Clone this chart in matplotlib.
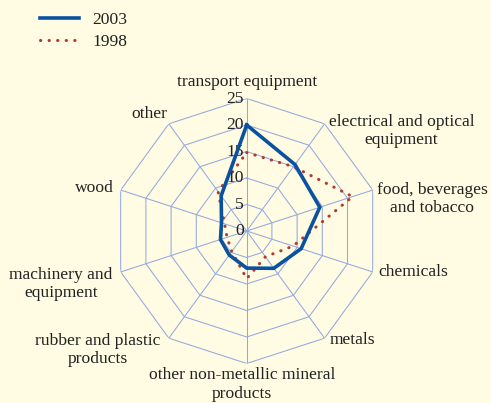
import numpy as np
import matplotlib.pyplot as plt
import matplotlib.transforms as mtransforms
from matplotlib.lines import Line2D

categories = ["transport equipment", "electrical and optical\nequipment",
              "food, beverages\nand tobacco", "chemicals", "metals",
              "other non-metallic mineral\nproducts", "rubber and plastic\nproducts",
              "machinery and\nequipment", "wood", "other"]
values_2003 = [20.0, 15.5, 14.5, 10.8, 8.7, 7.0, 5.6, 5.2, 5.0, 8.2]
values_1998 = [14.8, 15.0, 21.0, 9.2, 6.0, 9.0, 4.8, 3.9, 4.4, 9.2]
rings = [5, 10, 15, 20, 25]
tick_labels = ["0", "5", "10", "15", "20", "25"]

bg = "#fffce3"
grid_col = "#93a8e0"
blue = "#0a52a0"
red = "#b03a32"

plt.rcParams['font.family'] = ['Liberation Serif', 'DejaVu Serif']
fs = 12.6

fig = plt.figure(figsize=(4.91, 4.03), dpi=100, facecolor=bg)
ax = fig.add_axes([0.2326, 0.098, 0.5397, 0.6576], projection='polar')
ax.set_theta_zero_location('N')
ax.set_theta_direction(-1)
ax.set_ylim(0, 25)
ax.set_axis_off()

n = len(categories)
theta = np.linspace(0, 2 * np.pi, n, endpoint=False)
theta_c = np.append(theta, theta[0])

# polygon grid
for r in rings:
    ax.plot(theta_c, [r] * (n + 1), color=grid_col, lw=0.75, zorder=1)
for t in theta:
    ax.plot([t, t], [0, 25], color=grid_col, lw=0.75, zorder=1)

ax.plot(theta_c, values_1998 + values_1998[:1], color=red, lw=2.2,
        linestyle=(0, (0.1, 2.7)), dash_capstyle='round', zorder=3)
ax.plot(theta_c, values_2003 + values_2003[:1], color=blue, lw=2.6,
        solid_joinstyle='miter', zorder=4)

# radial tick labels left of the top spoke
off = mtransforms.offset_copy(ax.transData, fig=fig, x=-3, y=0, units='dots')
for i, lab in enumerate(tick_labels):
    ax.text(0, i * 5, lab, ha='right', va='center', fontsize=fs,
            color='#222222', transform=off)

# category labels: (ha, va, dx, dy) in pixels
place = [('center', 'bottom', 0, 9), ('left', 'center', 4, -7),
         ('left', 'center', 4, -9), ('left', 'center', 6, 0),
         ('left', 'center', 5, -2), ('center', 'top', -5, -4),
         ('right', 'center', -8, -12), ('right', 'center', -8, -12),
         ('right', 'center', -7, 2), ('right', 'center', -1, 10)]
for t, lab, (ha, va, dx, dy) in zip(theta, categories, place):
    tr = mtransforms.offset_copy(ax.transData, fig=fig, x=dx, y=dy, units='dots')
    ax.text(t, 25, lab, ha=ha, va=va, ma='center', fontsize=fs,
            color='#222222', transform=tr, linespacing=1.2)

handles = [Line2D([], [], color=blue, lw=2.6),
           Line2D([], [], color=red, lw=2.2, linestyle=(0, (0.1, 2.7)),
                  dash_capstyle='round')]
leg = fig.legend(handles, ["2003", "1998"], loc='upper left',
                 bbox_to_anchor=(40 / 491, 1 - 12 / 403), frameon=False,
                 fontsize=fs, handlelength=2.2, handletextpad=0.8,
                 labelspacing=0.3, borderpad=0, borderaxespad=0)
for t in leg.get_texts():
    t.set_color('#222222')

fig.savefig("out.png", dpi=100, facecolor=bg)
